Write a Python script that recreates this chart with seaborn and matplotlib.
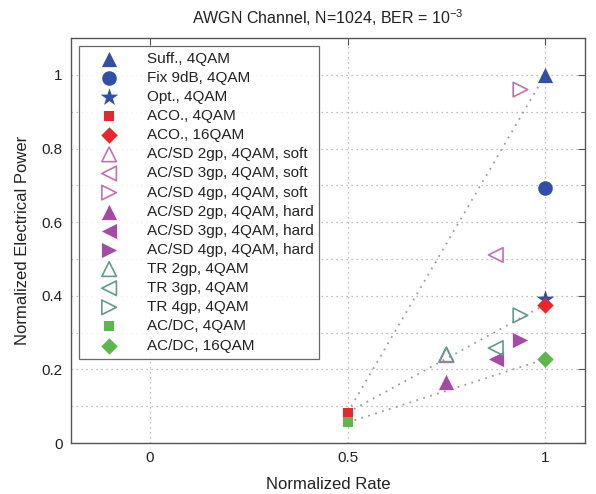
import numpy as np
import pandas as pd
import seaborn as sns
import matplotlib
matplotlib.use("Agg")
from matplotlib import pyplot as plt

# data
labels = ["Suff., 4QAM", "Fix 9dB, 4QAM", "Opt., 4QAM", "ACO., 4QAM", "ACO., 16QAM",
          "AC/SD 2gp, 4QAM, soft", "AC/SD 3gp, 4QAM, soft", "AC/SD 4gp, 4QAM, soft",
          "AC/SD 2gp, 4QAM, hard", "AC/SD 3gp, 4QAM, hard", "AC/SD 4gp, 4QAM, hard",
          "TR 2gp, 4QAM", "TR 3gp, 4QAM", "TR 4gp, 4QAM",
          "AC/DC, 4QAM", "AC/DC, 16QAM"]
rate = [1.0, 1.0, 1.0, 0.5, 1.0,
        0.75, 0.875, 0.9375,
        0.75, 0.875, 0.9375,
        0.75, 0.875, 0.9375,
        0.5, 1.0]
power = [1.0, 0.693, 0.392, 0.083, 0.376,
         0.239, 0.511, 0.960,
         0.166, 0.228, 0.280,
         0.241, 0.258, 0.347,
         0.056, 0.228]

# dotted guide lines (start/end points)
guide_x = [[0.5, 1.0], [0.5, 1.0], [0.5, 1.0]]
guide_y = [[0.083, 1.0], [0.083, 0.376], [0.056, 0.228]]

xticks = [0, 0.5, 1]
xticklabels = ["0", "0.5", "1"]
yticks = [0, 0.2, 0.4, 0.6, 0.8, 1]
yticklabels = ["0", "0.2", "0.4", "0.6", "0.8", "1"]
yminor = [0.1, 0.3, 0.5, 0.7, 0.9]

blue = "#2f4fa8"
red = "#e8262b"
soft = "#c66fb5"
hard = "#a54aa5"
tr = "#5f9c8e"
green = "#5cb84a"

styles = [
    ("^", blue, True, 120), ("o", blue, True, 110), ("*", blue, True, 180),
    ("s", red, True, 60), ("D", red, True, 70),
    ("^", soft, False, 110), ("<", soft, False, 110), (">", soft, False, 110),
    ("^", hard, True, 120), ("<", hard, True, 120), (">", hard, True, 120),
    ("^", tr, False, 110), ("<", tr, False, 110), (">", tr, False, 110),
    ("s", green, True, 60), ("D", green, True, 70),
]

sns.set_style("white")
plt.rcParams["font.family"] = ["Liberation Sans", "DejaVu Sans"]
plt.rcParams["mathtext.default"] = "regular"
plt.rcParams["text.color"] = "#222222"
plt.rcParams["axes.labelcolor"] = "#222222"

fig, ax = plt.subplots(figsize=(5.96, 4.94), dpi=100)
fig.subplots_adjust(left=0.119, right=0.981, bottom=0.103, top=0.923)

for gx, gy in zip(guide_x, guide_y):
    sns.lineplot(x=gx, y=gy, ax=ax, color="#a09aa0", linestyle=(0, (1, 3)),
                 linewidth=1.3, zorder=2)

df = pd.DataFrame({"rate": rate, "power": power, "label": labels})
for (m, c, filled, s), (_, row) in zip(styles, df.iterrows()):
    sns.scatterplot(x=[row["rate"]], y=[row["power"]], ax=ax, marker=m, s=s,
                    color=c, facecolor=c if filled else "none", edgecolor=c,
                    linewidth=0 if filled else 1.2, label=row["label"], zorder=3)

ax.set_xlim(-0.2, 1.1)
ax.set_ylim(0, 1.1)
ax.set_xticks(xticks)
ax.set_xticklabels(xticklabels)
ax.set_yticks(yticks)
ax.set_yticklabels(yticklabels)
ax.set_yticks(yminor, minor=True)
ax.tick_params(which="both", direction="in", top=True, right=True,
               labelsize=11, colors="#555555", labelcolor="#222222")
ax.tick_params(which="major", length=5, pad=6)
ax.tick_params(which="minor", length=3)
ax.grid(True, which="both", axis="y", color="#aaaaaa", linestyle=(0, (1, 3)), linewidth=0.9)
ax.grid(True, which="major", axis="x", color="#aaaaaa", linestyle=(0, (1, 3)), linewidth=0.9)
for sp in ax.spines.values():
    sp.set_color("#555555")
    sp.set_linewidth(1.0)

ax.set_xlabel("Normalized Rate", fontsize=12, labelpad=8)
ax.set_ylabel("Normalized Electrical Power", fontsize=12, labelpad=8)
ax.set_title("AWGN Channel, N=1024, BER = $10^{-3}$", fontsize=11.5, pad=10)

leg = ax.legend(loc="upper left", fontsize=11, frameon=True, fancybox=False,
                labelspacing=0.335, handletextpad=0.85, borderpad=0.4,
                scatterpoints=1, borderaxespad=0.5, handlelength=3.2)
leg.get_frame().set_edgecolor("#444444")
leg.get_frame().set_linewidth(0.9)

plt.savefig("out.png", dpi=100)
